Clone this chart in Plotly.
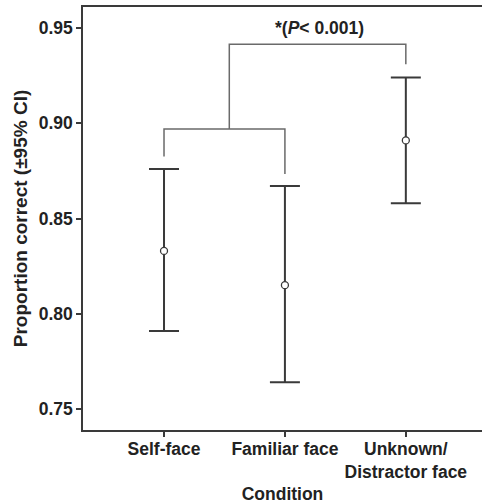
import plotly.graph_objects as go

conditions = ["Self-face", "Familiar face", "Unknown/<br>Distractor face"]
means = [0.833, 0.815, 0.891]
ci_upper = [0.876, 0.867, 0.924]
ci_lower = [0.791, 0.764, 0.858]

# significance brackets (x in category index units, y in proportion)
bracket_low_x = [0, 0, 1, 1]
bracket_low_y = [0.8825, 0.897, 0.897, 0.8734]
bracket_high_x = [0.54, 0.54, 2, 2]
bracket_high_y = [0.897, 0.9414, 0.9414, 0.931]
sig_label = "*(<i>P</i>< 0.001)"

y_ticks = [0.75, 0.80, 0.85, 0.90, 0.95]

xs = list(range(len(conditions)))
err_plus = [u - m for u, m in zip(ci_upper, means)]
err_minus = [m - l for m, l in zip(means, ci_lower)]

FONT = "Liberation Sans, Arial, sans-serif"
AX = "#3a3a3a"
TXT = "#222"

fig = go.Figure()
fig.add_trace(go.Scatter(
    x=bracket_low_x, y=bracket_low_y, mode="lines",
    line=dict(color="#6a6a6a", width=1.5), hoverinfo="skip", showlegend=False))
fig.add_trace(go.Scatter(
    x=bracket_high_x, y=bracket_high_y, mode="lines",
    line=dict(color="#6a6a6a", width=1.5), hoverinfo="skip", showlegend=False))
fig.add_trace(go.Scatter(
    x=xs, y=means, mode="markers",
    marker=dict(symbol="circle", size=7, color="white", line=dict(color=AX, width=1.3)),
    error_y=dict(type="data", array=err_plus, arrayminus=err_minus,
                 color=AX, thickness=2, width=15),
    showlegend=False))

fig.add_annotation(x=1.29, y=0.95, xref="x", yref="y", text=sig_label,
                   showarrow=False, xanchor="center", yanchor="middle",
                   font=dict(family=FONT, size=17.5, color=TXT, weight="bold"))

fig.update_layout(
    width=482, height=504,
    margin=dict(l=83, r=0, t=7, b=74),
    paper_bgcolor="white", plot_bgcolor="white",
    font=dict(family=FONT, size=17.5, color=TXT, weight="bold"),
)
fig.update_xaxes(
    range=[-0.67, 2.63], tickvals=xs, ticktext=conditions,
    showline=True, linecolor=AX, linewidth=1.5, mirror=True,
    ticks="outside", ticklen=5, tickcolor=AX, tickwidth=1.5,
    showgrid=False, zeroline=False, automargin=False,
    ticklabelstandoff=-3,
    tickfont=dict(family=FONT, size=17.5, color=TXT, weight="bold"),
    title=dict(text="Condition", standoff=8,
               font=dict(family=FONT, size=17.5, color=TXT, weight="bold")),
)
fig.update_yaxes(
    range=[0.739, 0.961], tickvals=y_ticks, tickformat=".2f",
    showline=True, linecolor=AX, linewidth=1.5,
    ticks="outside", ticklen=5, tickcolor=AX, tickwidth=1.5,
    showgrid=False, zeroline=False, automargin=False,
    tickfont=dict(family=FONT, size=17.5, color=TXT, weight="bold"),
    title=dict(text="Proportion correct (±95% CI)", standoff=6,
               font=dict(family=FONT, size=19, color=TXT, weight="bold")),
)

fig.write_html("out.html", config={"displayModeBar": False},
               post_script="document.body.style.margin='0';document.body.style.overflow='hidden';")
